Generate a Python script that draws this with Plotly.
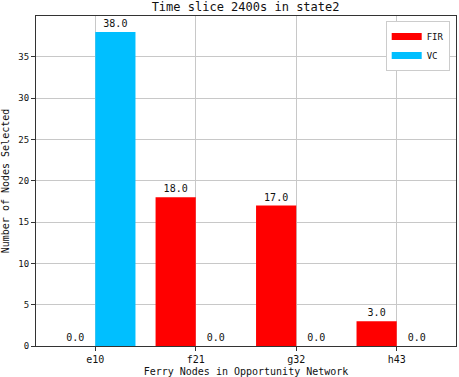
import plotly.graph_objects as go

categories = ["e10", "f21", "g32", "h43"]
fir_values = [0.0, 18.0, 17.0, 3.0]
vc_values = [38.0, 0.0, 0.0, 0.0]
y_ticks = [0, 5, 10, 15, 20, 25, 30, 35]

FONT = "DejaVu Sans Mono"
RED = "#FF0000"
BLUE = "#00BFFF"

fig = go.Figure()
fig.add_trace(go.Bar(x=categories, y=fir_values, name="FIR", marker_color=RED,
                     marker_line_width=0, texttemplate="%{y:.1f}", textposition="outside",
                     textfont=dict(family=FONT, size=10, color="#111"), cliponaxis=False,
                     showlegend=False))
fig.add_trace(go.Bar(x=categories, y=vc_values, name="VC", marker_color=BLUE,
                     marker_line_width=0, texttemplate="%{y:.1f}", textposition="outside",
                     textfont=dict(family=FONT, size=10, color="#111"), cliponaxis=False,
                     showlegend=False))
# legend entries drawn as wide patches
fig.add_trace(go.Scatter(x=[None], y=[None], mode="lines", name="FIR",
                         line=dict(color=RED, width=7)))
fig.add_trace(go.Scatter(x=[None], y=[None], mode="lines", name="VC",
                         line=dict(color=BLUE, width=7)))

fig.update_layout(
    width=459, height=377,
    margin=dict(l=36, r=3, t=16, b=31),
    paper_bgcolor="white", plot_bgcolor="white",
    barmode="group", bargap=0.2, bargroupgap=0,
    font=dict(family=FONT, size=10, color="#111"),
    title=dict(text="Time slice 2400s in state2", x=0.535, xanchor="center",
               y=0.992, yanchor="top", pad=dict(t=0, b=0),
               font=dict(family=FONT, size=12, color="#111")),
    legend=dict(x=0.985, xanchor="right", y=0.985, yanchor="top",
                bordercolor="#cccccc", borderwidth=1, bgcolor="white",
                font=dict(family=FONT, size=9), itemwidth=30, tracegroupgap=0),
)
fig.update_xaxes(
    range=[-0.59, 3.59], showgrid=True, gridcolor="#c8c8c8", gridwidth=1,
    showline=True, linecolor="#333", linewidth=1, mirror=True,
    ticks="outside", ticklen=4, tickcolor="#333", automargin=False,
    title=dict(text="Ferry Nodes in Opportunity Network",
               font=dict(family=FONT, size=10)),
    tickfont=dict(family=FONT, size=10),
)
fig.update_yaxes(
    range=[0, 39.95], tickvals=y_ticks, showgrid=True, gridcolor="#c8c8c8", gridwidth=1,
    showline=True, linecolor="#333", linewidth=1, mirror=True,
    ticks="outside", ticklen=4, tickcolor="#333", zeroline=False, automargin=False,
    title=dict(text="Number of Nodes Selected",
               font=dict(family=FONT, size=10)),
    tickfont=dict(family=FONT, size=9),
)

fig.write_html("out.html", config={"displayModeBar": False},
               post_script="document.body.style.margin='0';document.body.style.overflow='hidden';")
